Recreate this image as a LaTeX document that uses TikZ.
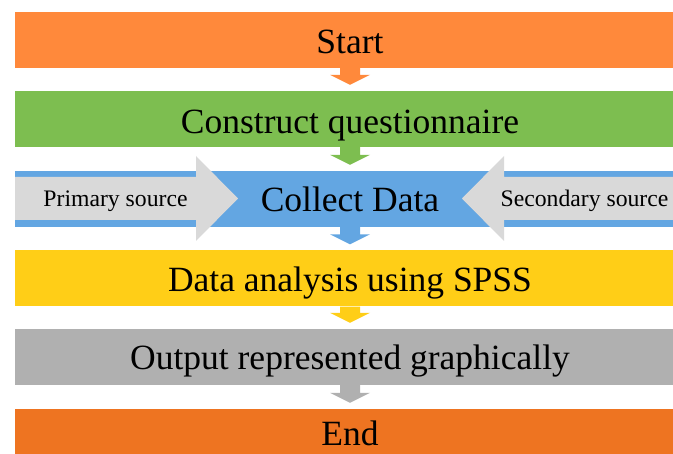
\documentclass[tikz,border=0pt]{standalone}
\usepackage{fontspec}
\setmainfont{Liberation Serif}
\usetikzlibrary{calc}
\definecolor{startC}{RGB}{255,137,59}
\definecolor{constC}{RGB}{125,190,80}
\definecolor{collC}{RGB}{99,166,226}
\definecolor{dataC}{RGB}{255,206,23}
\definecolor{outC}{RGB}{176,176,176}
\definecolor{endC}{RGB}{238,116,33}
\definecolor{srcC}{RGB}{217,217,217}
\tikzset{
  bar/.style={rectangle, inner sep=0pt, minimum width=670pt, minimum height=56pt, fill=#1},
  bigtxt/.style={anchor=base, inner sep=0pt, font=\fontsize{35.5}{40}\selectfont},
  smalltxt/.style={anchor=base, inner sep=0pt, font=\fontsize{23.7}{28}\selectfont},
  blk/.style={fill=#1, to path={let \p1=(\tikztostart), \p2=(\tikztotarget) in
    (\x1-10pt,\y1) -- (\x1+10pt,\y1) -- (\x1+10pt,\y2+16pt) -- (\x1+20pt,\y2+16pt)
    -- (\x1,\y2+6pt) -- (\x1-20pt,\y2+16pt) -- (\x1-10pt,\y2+16pt) -- cycle}}
}
\begin{document}
\begin{tikzpicture}[x=1pt,y=-1pt]
\useasboundingbox (0,0) rectangle (673,454);
% bars
\node[bar=startC] (start) at (350,40) {};
\node[bar=constC] (construct) at (350,119) {};
\node[bar=collC] (collect) at (350,199) {};
\node[bar=dataC] (data) at (350,278.5) {};
\node[bar=outC] (output) at (350,357) {};
\node[bar=endC, minimum height=45pt] (end) at (350,431.5) {};
% source arrows
\fill[srcC] (15,177) -- (196,177) -- (196,156) -- (238,198.5) -- (196,241) -- (196,220) -- (15,220) -- cycle;
\fill[srcC] (685,177) -- (504,177) -- (504,156) -- (462,198.5) -- (504,241) -- (504,220) -- (685,220) -- cycle;
% connectors
\fill[blk=startC] (start.south) to (construct.north);
\fill[blk=constC] (construct.south) to (collect.north);
\fill[blk=collC] (collect.south) to (data.north);
\fill[blk=dataC] (data.south) to (output.north);
\fill[blk=outC] (output.south) to (end.north);
% texts
\node[bigtxt] (startT) at (350,53.3) {Start};
\node[bigtxt] (constT) at (350,133.3) {Construct questionnaire};
\node[bigtxt] (collT) at (350,211.7) {Collect Data};
\node[smalltxt] (primT) at (115.5,206.7) {Primary source};
\node[smalltxt] (secT) at (584.5,206.7) {Secondary source};
\node[bigtxt] (dataT) at (350,291.7) {Data analysis using SPSS};
\node[bigtxt] (outT) at (350,369.3) {Output represented graphically};
\node[bigtxt] (endT) at (350,446) {End};
\end{tikzpicture}
\end{document}
